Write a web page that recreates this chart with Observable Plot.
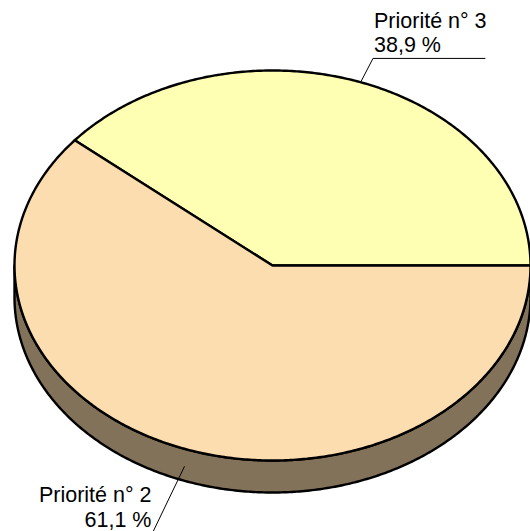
<!DOCTYPE html>
<html><head><meta charset="utf-8">
<script src="https://cdn.jsdelivr.net/npm/d3@7"></script>
<script src="https://cdn.jsdelivr.net/npm/@observablehq/plot@0.6"></script>
<style>body{margin:0;background:#fff} svg{display:block}</style>
</head><body><div id="chart"></div>
<script>
// ---- data ----
const categories = ["Priorité n° 3", "Priorité n° 2"];
const values = [38.9, 61.1];
const valueLabels = ["38,9 %", "61,1 %"];

// ---- style ----
const topColors = ["#FFFFB4", "#FCDDAF"];
const sideColors = ["#80804A", "#827259"];
const W = 530, H = 531;
const cx = 272, cy = 265, rx = 258, ry = 195, depthPx = 32;
const depth = depthPx / ry; // in unit y

const total = d3.sum(values);
let acc = 0;
const slices = categories.map((c, i) => {
  const s = acc, e = acc + values[i] / total * 2 * Math.PI;
  acc = e;
  return {cat: c, i, start: s, end: e, mid: (s + e) / 2, label: valueLabels[i]};
});

function arc(a0, a1, dy = 0) {
  const n = Math.max(2, Math.ceil(Math.abs(a1 - a0) / 0.01));
  return d3.range(n + 1).map(k => {
    const a = a0 + (a1 - a0) * k / n;
    return {x: Math.cos(a), y: Math.sin(a) - dy};
  });
}

// side faces (front half: angles PI..2PI)
const sideMarks = [];
for (const s of slices) {
  const a0 = Math.max(s.start, Math.PI), a1 = Math.min(s.end, 2 * Math.PI);
  if (a0 < a1) {
    const pts = [...arc(a0, a1, 0), ...arc(a1, a0, depth)];
    pts.push(pts[0]);
    sideMarks.push(Plot.line(pts, {x: "x", y: "y", fill: sideColors[s.i], stroke: "#000", strokeWidth: 2.4, strokeLinejoin: "round"}));
  }
}

// top faces
const topPts = [];
for (const s of slices) {
  topPts.push({cat: s.cat, x: 0, y: 0});
  for (const p of arc(s.start, s.end)) topPts.push({cat: s.cat, ...p});
  topPts.push({cat: s.cat, x: 0, y: 0});
}

// leader lines & labels
const leaders = [];
const texts = [];
for (const s of slices) {
  const c = Math.cos(s.mid), sn = Math.sin(s.mid);
  if (sn >= 0) {
    const p0 = {x: c, y: sn};
    const p1 = {x: c * 1.14, y: sn * 1.13};
    const p2 = {x: p1.x + 112 / rx, y: p1.y};
    leaders.push([p0, p1, p2].map(p => ({...p, cat: s.cat})));
    texts.push({x: p1.x, y: p1.y, text: s.cat + "\n" + s.label, anchor: "start", dx: 1, dy: -6});
  } else {
    const p0 = {x: c, y: sn - depth * 0.56};
    const p1 = {x: p0.x + c * 0.35, y: p0.y + sn * 0.35};
    leaders.push([p0, p1].map(p => ({...p, cat: s.cat})));
    texts.push({x: p1.x, y: p1.y, text: s.cat + "\n" + s.label, anchor: "end", dx: -2, dy: -4});
  }
}

const chart = Plot.plot({
  width: W, height: H,
  margin: 0,
  style: {background: "#fff", fontFamily: "'Liberation Sans', Arial, sans-serif", overflow: "hidden"},
  x: {domain: [-1, 1], range: [cx - rx, cx + rx], axis: null},
  y: {domain: [-1, 1], range: [cy + ry, cy - ry], axis: null},
  color: {domain: categories, range: topColors},
  marks: [
    ...sideMarks,
    Plot.line(topPts, {x: "x", y: "y", z: "cat", fill: "cat", stroke: "#000", strokeWidth: 2.4, strokeLinejoin: "round"}),
    ...leaders.map(l => Plot.line(l, {x: "x", y: "y", stroke: "#000", strokeWidth: 1})),
    ...texts.map(t => Plot.text([t], {x: "x", y: "y", text: "text", textAnchor: t.anchor, lineAnchor: "bottom", lineHeight: 1.15, dx: t.dx, dy: t.dy, fontSize: 21.5, fill: "#000"}))
  ]
});
document.getElementById("chart").appendChild(chart);
</script>
</body></html>
